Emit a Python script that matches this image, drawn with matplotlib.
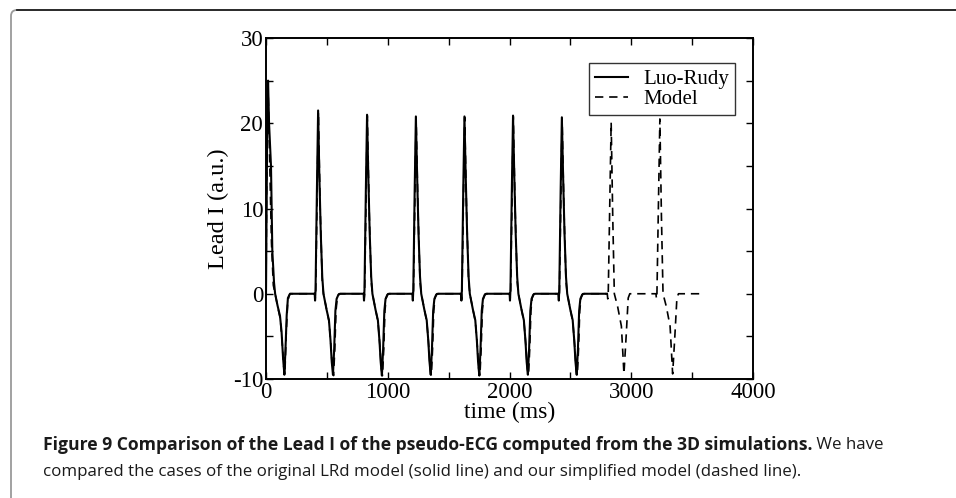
import matplotlib
matplotlib.use("Agg")
import matplotlib.pyplot as plt
from matplotlib.patches import FancyBboxPatch
from matplotlib.lines import Line2D
from matplotlib.ticker import MultipleLocator

# ---------------- data ----------------
t_luo_rudy = [
    0, 4, 10, 17, 25, 41, 52, 66, 75, 95, 115, 128, 140, 151, 160, 170, 180, 197,
    400, 403, 407, 418, 428, 438, 450, 462, 472, 498, 517, 530, 540, 550, 560, 570, 580, 595, 610,
    802, 805, 809, 820, 830, 840, 852, 864, 874, 900, 919, 932, 942, 952, 962, 972, 982, 997, 1012,
    1203, 1206, 1210, 1221, 1231, 1241, 1253, 1265, 1275, 1301, 1320, 1333, 1343, 1353, 1363, 1373, 1383, 1398, 1413,
    1602, 1605, 1609, 1620, 1630, 1640, 1652, 1664, 1674, 1700, 1719, 1732, 1742, 1752, 1762, 1772, 1782, 1797, 1812,
    2001, 2004, 2008, 2019, 2029, 2039, 2051, 2063, 2073, 2099, 2118, 2131, 2141, 2151, 2161, 2171, 2181, 2196, 2211,
    2402, 2405, 2409, 2420, 2430, 2440, 2452, 2464, 2474, 2500, 2519, 2532, 2542, 2552, 2562, 2572, 2582, 2597, 2612,
    2800,
]
v_luo_rudy = [
    0, 8, 20, 25, 20, 15, 5, 1.3, 0, -1.4, -2.6, -4.5, -7.5, -9.5, -6.5, -2.5, -0.5, 0,
    0, -0.8, 0.5, 12, 21.5, 14, 7, 2, 0, -1.9, -3.1, -5.5, -8, -9.5, -6.5, -2, -0.6, -0.1, 0,
    0, -0.8, 0.5, 12, 21.0, 14, 7, 2, 0, -1.9, -3.1, -5.5, -8, -9.6, -6.5, -2, -0.6, -0.1, 0,
    0, -0.8, 0.5, 12, 20.8, 14, 7, 2, 0, -1.9, -3.1, -5.5, -8, -9.5, -6.5, -2, -0.6, -0.1, 0,
    0, -0.8, 0.5, 12, 20.8, 14, 7, 2, 0, -1.9, -3.1, -5.5, -8, -9.6, -6.5, -2, -0.6, -0.1, 0,
    0, -0.8, 0.5, 12, 20.9, 14, 7, 2, 0, -1.9, -3.1, -5.5, -8, -9.5, -6.5, -2, -0.6, -0.1, 0,
    0, -0.8, 0.5, 12, 20.7, 14, 7, 2, 0, -1.9, -3.1, -5.5, -8, -9.5, -6.5, -2, -0.6, -0.1, 0,
    0,
]

t_model = [
    0, 5, 16, 30, 45, 60, 75, 100, 118, 132, 145, 155, 165, 178, 190, 200,
    400, 404, 408, 430, 445, 462, 472, 500, 518, 533, 545, 555, 565, 575, 585, 600,
    802, 806, 810, 832, 847, 864, 874, 902, 920, 935, 947, 957, 967, 977, 987, 1002,
    1203, 1207, 1211, 1233, 1248, 1265, 1275, 1303, 1321, 1336, 1348, 1358, 1368, 1378, 1388, 1403,
    1602, 1606, 1610, 1632, 1647, 1664, 1674, 1702, 1720, 1735, 1747, 1757, 1767, 1777, 1787, 1802,
    2001, 2005, 2009, 2031, 2046, 2063, 2073, 2101, 2119, 2134, 2146, 2156, 2166, 2176, 2186, 2201,
    2402, 2406, 2410, 2432, 2447, 2464, 2474, 2502, 2520, 2535, 2547, 2557, 2567, 2577, 2587, 2602,
    2803, 2807, 2811, 2835, 2848, 2861, 2888, 2919, 2940, 2958, 2975, 2988,
    3203, 3207, 3211, 3235, 3248, 3261, 3288, 3319, 3340, 3358, 3375, 3388,
    3605,
]
v_model = [
    0, 12, 24.8, 16, 6, 1, 0, -1.8, -3, -5.5, -8.5, -9.5, -5, -1, -0.2, 0,
    0, -0.6, 0, 21.3, 10, 1.5, 0, -2, -3.3, -6, -8.8, -9.6, -6.5, -2, -0.5, 0,
    0, -0.6, 0, 20.9, 10, 1.5, 0, -2, -3.3, -6, -8.8, -9.6, -6.5, -2, -0.5, 0,
    0, -0.6, 0, 20.7, 10, 1.5, 0, -2, -3.3, -6, -8.8, -9.6, -6.5, -2, -0.5, 0,
    0, -0.6, 0, 20.7, 10, 1.5, 0, -2, -3.3, -6, -8.8, -9.6, -6.5, -2, -0.5, 0,
    0, -0.6, 0, 20.8, 10, 1.5, 0, -2, -3.3, -6, -8.8, -9.6, -6.5, -2, -0.5, 0,
    0, -0.6, 0, 20.6, 10, 1.5, 0, -2, -3.3, -6, -8.8, -9.6, -6.5, -2, -0.5, 0,
    0, -0.6, 0, 20.1, 9, 0, -1.5, -3.8, -9.4, -5, -0.5, 0,
    0, -0.6, 0, 20.5, 9, 0, -1.5, -3.8, -9.4, -5, -0.5, 0,
    0,
]

series_labels = ["Luo-Rudy", "Model"]
x_label = "time (ms)"
y_label = "Lead I (a.u.)"
caption_bold = "Figure 9 Comparison of the Lead I of the pseudo-ECG computed from the 3D simulations."
caption_rest1 = " We have"
caption_line2 = "compared the cases of the original LRd model (solid line) and our simplified model (dashed line)."

# ---------------- figure ----------------
plt.rcParams["font.family"] = ["Liberation Serif", "DejaVu Serif"]
plt.rcParams["axes.unicode_minus"] = False
W, H = 956, 498
fig = plt.figure(figsize=(W / 100, H / 100), dpi=100)

# outer frame (rounded top-left corner, runs off right and bottom)
frame = FancyBboxPatch((0.11, -0.5), 10.0, 4.88 + 0.5,
                       boxstyle="round,pad=0,rounding_size=0.06",
                       transform=fig.dpi_scale_trans, fill=False,
                       edgecolor="#9a9a9a", linewidth=1.3, clip_on=False)
fig.patches.append(frame)
fig.add_artist(Line2D([0.17, 9.6], [4.88, 4.88], transform=fig.dpi_scale_trans,
                      color="#222222", linewidth=1.3))

ax = fig.add_axes([266 / W, 1 - 379 / H, (753 - 266) / W, (379 - 38) / H])
ax.plot(t_luo_rudy, v_luo_rudy, color="black", linewidth=1.5, label=series_labels[0])
ax.plot(t_model, v_model, color="black", linewidth=1.2, linestyle=(0, (5, 3.5)),
        label=series_labels[1])

ax.set_xlim(0, 4000)
ax.set_ylim(-10, 30)
ax.xaxis.set_major_locator(MultipleLocator(1000))
ax.xaxis.set_minor_locator(MultipleLocator(500))
ax.yaxis.set_major_locator(MultipleLocator(10))
ax.yaxis.set_minor_locator(MultipleLocator(5))
ax.tick_params(which="both", direction="in", top=True, right=True,
               length=5, width=1.0, labelsize=16.5, pad=2)
for s in ax.spines.values():
    s.set_linewidth(1.4)
ax.set_xlabel(x_label, fontsize=17, labelpad=-1)
ax.set_ylabel(y_label, fontsize=17.5, labelpad=3)

leg = ax.legend(loc="upper right", bbox_to_anchor=((735 - 266) / 487, (379 - 63) / 341),
                fontsize=15, frameon=True, fancybox=False, edgecolor="black",
                borderpad=0.3, labelspacing=0.02, handlelength=1.6, handletextpad=0.7,
                borderaxespad=0)
leg.get_frame().set_linewidth(1.0)

# caption
cap_font = dict(family=["Open Sans", "DejaVu Sans"], color="#1a1a1a")
tb = fig.text(43 / W, 1 - 445 / H, caption_bold, fontweight="bold", fontsize=12.6,
              va="center", **cap_font)
fig.canvas.draw()
bb = tb.get_window_extent()
fig.text(bb.x1 / W, 1 - 445 / H, caption_rest1, va="center", fontsize=12.2, **cap_font)
fig.text(43 / W, 1 - 472 / H, caption_line2, va="center", fontsize=12.2, **cap_font)

fig.savefig("out.png", dpi=100)
